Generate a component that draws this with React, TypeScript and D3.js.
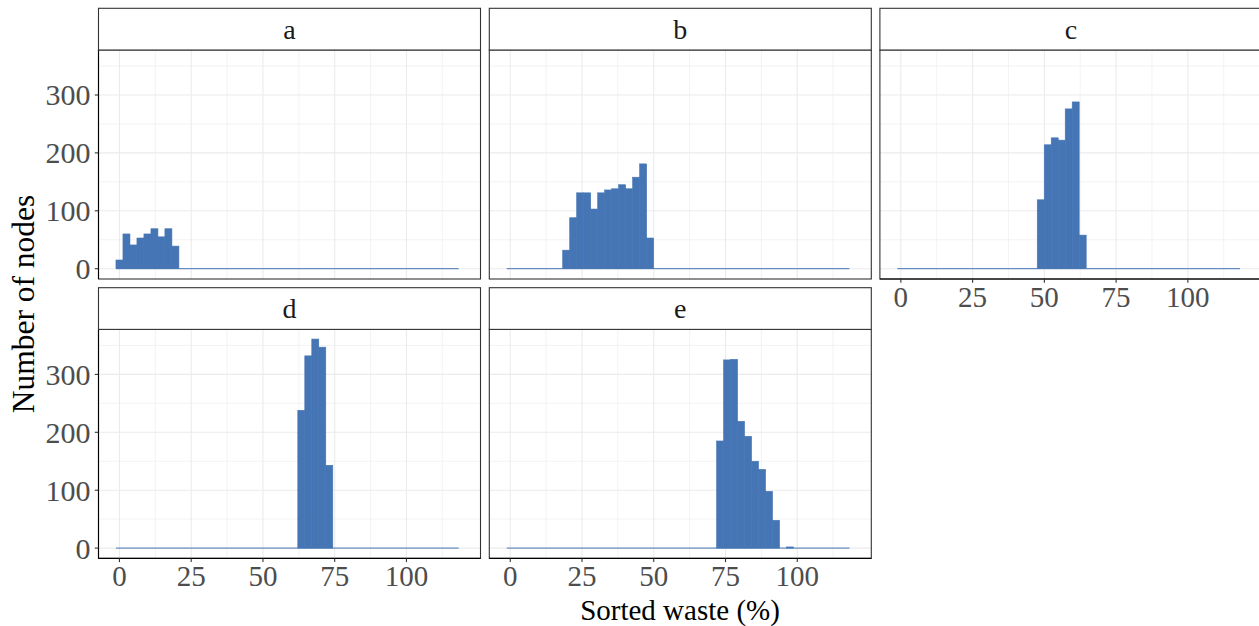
import React from "react";
import * as d3 from "d3";

const binWidth = 2.437;
const binCount = 49;
const panelNames = ["a", "b", "c", "d", "e"];
const startBins = [0, 8, 20, 26, 30];
const countsA = [15, 60, 41, 53, 60, 69, 55, 69, 39];
const countsB = [32, 88, 131, 131, 103, 131, 136, 138, 145, 138, 158, 181, 53];
const countsC = [119, 214, 226, 222, 276, 288, 58];
const countsD = [238, 332, 361, 347, 143];
const countsE = [185, 325, 326, 219, 193, 150, 136, 98, 48, 0, 2];
const panelCounts = [countsA, countsB, countsC, countsD, countsE];
const xTicks = [0, 25, 50, 75, 100];
const xMinor = [12.5, 37.5, 62.5, 87.5, 112.5];
const yTicks = [0, 100, 200, 300];
const yMinor = [50, 150, 250, 350];

const W = 1259, H = 626;
const colLeft = [98.5, 489.3, 879.9];
const rowTop = [8.3, 287.7];
const stripH = 41.7;
const panelW = 382;
const panelH = 229;
const FILL = "#4575b4";
const FONT = "'Liberation Serif', 'Times New Roman', Times, 'DejaVu Serif', serif";

export default function App() {
  const x = d3.scaleLinear().domain([-7.3, 125.8]).range([0, panelW]);
  const y = d3.scaleLinear().domain([-17.8, 377.7]).range([panelH, 0]);
  const tf = (size: number, fill: string) => ({ fontFamily: FONT, fontSize: size + "px", fill });

  const panels = panelNames.map((name, i) => {
    const col = i % 3;
    const row = Math.floor(i / 3);
    const left = colLeft[col];
    const stripTop = rowTop[row];
    const top = stripTop + stripH;
    const full = d3.range(binCount).map((k) => {
      const j = k - startBins[i];
      const v = j >= 0 && j < panelCounts[i].length ? panelCounts[i][j] : 0;
      return { k, v };
    });
    const showY = col === 0;
    const showX = row === 1 || i === 2;
    return (
      <g key={name}>
        <g transform={`translate(${left},${top})`}>
          <rect x={0} y={0} width={panelW} height={panelH} fill="#fff" />
          {xMinor.map((t) => (
            <line key={"xm" + t} x1={x(t)} x2={x(t)} y1={0} y2={panelH} stroke="#ebebeb" strokeWidth={0.6} />
          ))}
          {yMinor.map((t) => (
            <line key={"ym" + t} x1={0} x2={panelW} y1={y(t)} y2={y(t)} stroke="#ebebeb" strokeWidth={0.6} />
          ))}
          {xTicks.map((t) => (
            <line key={"xM" + t} x1={x(t)} x2={x(t)} y1={0} y2={panelH} stroke="#ebebeb" strokeWidth={1.1} />
          ))}
          {yTicks.map((t) => (
            <line key={"yM" + t} x1={0} x2={panelW} y1={y(t)} y2={y(t)} stroke="#ebebeb" strokeWidth={1.1} />
          ))}
          <line x1={x(-binWidth / 2)} x2={x((binCount - 0.5) * binWidth)} y1={y(0)} y2={y(0)} stroke={FILL} strokeWidth={1} />
          {full.filter((d) => d.v > 0).map((d) => {
            const x0 = x(d.k * binWidth - binWidth / 2);
            const x1 = x(d.k * binWidth + binWidth / 2);
            const yt = y(d.v);
            const y0 = y(0);
            return (
              <rect key={d.k} x={x0} y={yt} width={x1 - x0} height={y0 - yt}
                fill={FILL} stroke={FILL} strokeWidth={0.6} />
            );
          })}
          <rect x={0} y={0} width={panelW} height={panelH} fill="none" stroke="#333" strokeWidth={1.1} />
          {showY && (
            <g>
              <line x1={0} x2={0} y1={0} y2={panelH} stroke="#000" strokeWidth={1.1} />
              {yTicks.map((t) => (
                <g key={"yt" + t}>
                  <line x1={-3.7} x2={0} y1={y(t)} y2={y(t)} stroke="#333" strokeWidth={1.1} />
                  <text x={-8} y={y(t)} dy="0.35em" textAnchor="end" style={tf(30, "#4d4d4d")}>{t}</text>
                </g>
              ))}
            </g>
          )}
          {showX && (
            <g>
              <line x1={0} x2={panelW} y1={panelH} y2={panelH} stroke="#000" strokeWidth={1.1} />
              {xTicks.map((t) => (
                <g key={"xt" + t}>
                  <line x1={x(t)} x2={x(t)} y1={panelH} y2={panelH + 3.7} stroke="#333" strokeWidth={1.1} />
                  <text x={x(t)} y={panelH + 27.5} textAnchor="middle" style={tf(29, "#4d4d4d")}>{t}</text>
                </g>
              ))}
            </g>
          )}
        </g>
        <rect x={left} y={stripTop} width={panelW} height={stripH} fill="#fff" stroke="#333" strokeWidth={1.1} />
        <text x={left + panelW / 2} y={stripTop + stripH / 2} dy="0.35em" textAnchor="middle" style={tf(28, "#1a1a1a")}>{name}</text>
      </g>
    );
  });

  return (
    <div style={{ position: "absolute", left: 0, top: 0, fontFamily: FONT }}>
      <svg width={W} height={H} style={{ display: "block", background: "#fff", fontFamily: FONT }}>
        <rect x={0} y={0} width={W} height={H} fill="#fff" />
        {panels}
        <text transform={`translate(34,304) rotate(-90)`} textAnchor="middle" style={tf(31.5, "#000")}>Number of nodes</text>
        <text x={680} y={619.5} textAnchor="middle" style={tf(29, "#000")}>Sorted waste (%)</text>
      </svg>
    </div>
  );
}
